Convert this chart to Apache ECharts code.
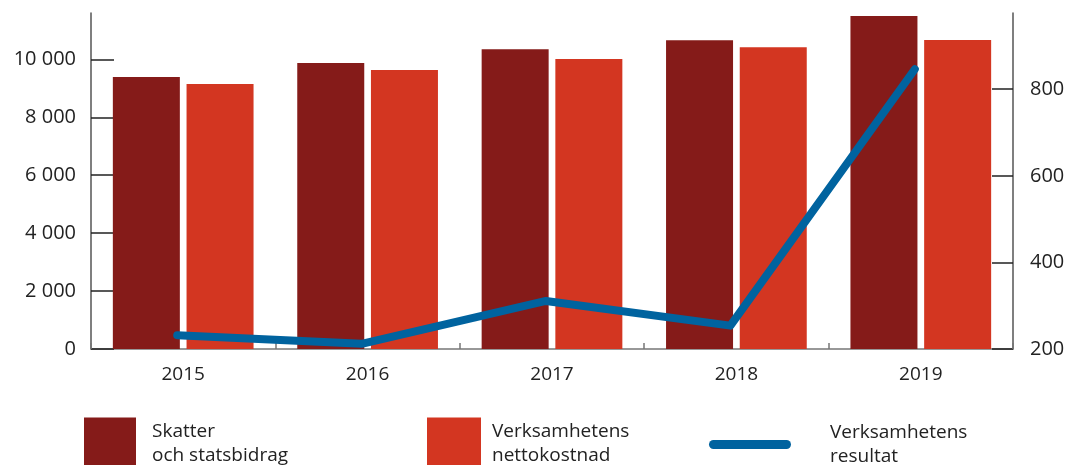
<!DOCTYPE html>
<html>
<head>
<meta charset="utf-8">
<script src="https://cdn.jsdelivr.net/npm/echarts@6/dist/echarts.min.js"></script>
<style>
  html, body { margin: 0; padding: 0; background: #fff; }
  #chart { width: 1069px; height: 465px; }
</style>
</head>
<body>
<div id="chart"></div>
<script>
// data
var years = ['2015', '2016', '2017', '2018', '2019'];
var skatter = [9390, 9870, 10350, 10660, 11500];       // Skatter och statsbidrag (left axis)
var nettokostnad = [9150, 9630, 10010, 10420, 10670];  // Verksamhetens nettokostnad (left axis)
var resultat = [232, 212, 311, 254, 846];              // Verksamhetens resultat (right axis)
var leftTicks = [0, 2000, 4000, 6000, 8000, 10000];
var rightTicks = [200, 400, 600, 800];

var font = '"Open Sans", sans-serif';
var dark = '#851b19';
var red = '#d33621';
var blue = '#00639f';

function fmt(v) {
  return String(v).replace(/\B(?=(\d{3})+(?!\d))/g, ' ');
}

var legendText = { fontFamily: font, fontSize: 19, color: '#222', lineHeight: 24 };

var chart = echarts.init(document.getElementById('chart'), null, { renderer: 'canvas' });

chart.setOption({
  animation: false,
  grid: [
    { left: 91, right: 56, top: 13, bottom: 116 },
    // the line sits a few px left of the bar groups
    { left: 85, right: 62, top: 13, bottom: 116 }
  ],
  legend: [
    {
      left: 84, top: 417, padding: 0, itemWidth: 52, itemHeight: 52, selectedMode: false,
      data: [{ name: 'Skatter\noch statsbidrag', icon: 'rect' }],
      textStyle: Object.assign({ padding: [5, 0, 0, 11] }, legendText)
    },
    {
      left: 427, top: 417, padding: 0, itemWidth: 54, itemHeight: 52, selectedMode: false,
      data: [{ name: 'Verksamhetens\nnettokostnad', icon: 'rect' }],
      textStyle: Object.assign({ padding: [5, 0, 0, 6] }, legendText)
    },
    {
      left: 709, top: 418, padding: 0, itemWidth: 82, itemHeight: 9, selectedMode: false,
      data: [{ name: 'Verksamhetens\nresultat', icon: 'path://M4.5,0 L77.5,0 A4.5,4.5 0 0 1 77.5,9 L4.5,9 A4.5,4.5 0 0 1 4.5,0 Z' }],
      itemStyle: { color: blue },
      textStyle: Object.assign({ padding: [5, 0, 0, 34] }, legendText)
    }
  ],
  xAxis: [
    {
      type: 'category', gridIndex: 0, data: years,
      axisLine: { lineStyle: { color: '#777', width: 1.5 } },
      axisTick: { show: true, inside: true, length: 6, lineStyle: { color: '#777', width: 1.5 } },
      axisLabel: { fontFamily: font, fontSize: 19, color: '#222', margin: 16 }
    },
    {
      type: 'category', gridIndex: 1, data: years, show: false
    }
  ],
  yAxis: [
    {
      type: 'value', gridIndex: 0, position: 'left', min: 0, max: 11600, interval: 2000,
      splitLine: { show: false },
      axisLine: { show: true, lineStyle: { color: '#555', width: 1.5 } },
      axisTick: { show: true, inside: true, length: 23, customValues: leftTicks, lineStyle: { color: '#222', width: 1.5 } },
      axisLabel: { fontFamily: font, fontSize: 20, color: '#222', margin: 15, customValues: leftTicks, formatter: fmt }
    },
    {
      type: 'value', gridIndex: 0, position: 'right', min: 200, max: 976, interval: 200,
      splitLine: { show: false },
      axisLine: { show: true, lineStyle: { color: '#555', width: 1.5 } },
      axisTick: { show: true, inside: true, length: 21, customValues: rightTicks, lineStyle: { color: '#222', width: 1.5 } },
      axisLabel: { fontFamily: font, fontSize: 20, color: '#222', margin: 17, customValues: rightTicks, formatter: fmt }
    },
    {
      type: 'value', gridIndex: 1, min: 200, max: 976, show: false, splitLine: { show: false }
    }
  ],
  series: [
    {
      name: 'Skatter\noch statsbidrag', type: 'bar', xAxisIndex: 0, yAxisIndex: 0,
      data: skatter, barWidth: 67, barGap: '10%',
      itemStyle: { color: dark }
    },
    {
      name: 'Verksamhetens\nnettokostnad', type: 'bar', xAxisIndex: 0, yAxisIndex: 0,
      data: nettokostnad, barWidth: 67, barGap: '10%',
      itemStyle: { color: red }
    },
    {
      name: 'Verksamhetens\nresultat', type: 'line', xAxisIndex: 1, yAxisIndex: 2,
      data: resultat, symbol: 'none', z: 5,
      lineStyle: { color: blue, width: 8, cap: 'round', join: 'round' },
      itemStyle: { color: blue }
    }
  ]
});
</script>
</body>
</html>
